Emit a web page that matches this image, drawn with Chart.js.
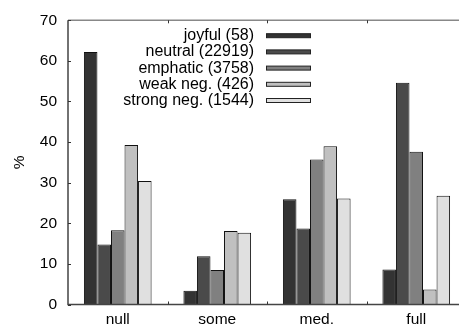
<!DOCTYPE html>
<html>
<head>
<meta charset="utf-8">
<script src="https://cdn.jsdelivr.net/npm/chart.js@4/dist/chart.umd.min.js"></script>
<style>
html,body{margin:0;padding:0;overflow:hidden;background:#fff;width:459px;height:329px;}
#wrap{position:absolute;left:0;top:0;width:470px;height:329px;}
</style>
</head>
<body>
<div id="wrap"><canvas id="c" width="470" height="329"></canvas></div>
<script>
const categories = ["null", "some", "med.", "full"];
const seriesLabels = ["joyful (58)", "neutral (22919)", "emphatic (3758)", "weak neg. (426)", "strong neg. (1544)"];
const joyful    = [62.2, 3.4, 25.9, 8.6];
const neutral   = [14.8, 11.9, 18.7, 54.6];
const emphatic  = [18.3, 8.5, 35.7, 37.6];
const weakNeg   = [39.3, 18.1, 39.0, 3.7];
const strongNeg = [30.4, 17.7, 26.1, 26.8];
const yTicks = [0, 10, 20, 30, 40, 50, 60, 70];
const yAxisLabel = "%";

const fills = ["#333333", "#4a4a4a", "#808080", "#c0c0c0", "#e0e0e0"];
const seriesData = [joyful, neutral, emphatic, weakNeg, strongNeg];

const FONT = "'Liberation Sans', Arial, Helvetica, sans-serif";

const frame = {
  id: 'frame',
  afterDraw(chart) {
    const ctx = chart.ctx;
    const a = chart.chartArea;
    const x = chart.scales.x, y = chart.scales.y;
    ctx.save();
    ctx.strokeStyle = '#888';
    ctx.lineWidth = 1.5;
    ctx.beginPath();
    ctx.moveTo(a.left, a.top);
    ctx.lineTo(a.right, a.top);
    ctx.stroke();
    ctx.strokeStyle = '#444';
    ctx.lineWidth = 1.5;
    ctx.beginPath();
    ctx.moveTo(a.left, a.top);
    ctx.lineTo(a.left, a.bottom);
    ctx.lineTo(a.right, a.bottom);
    ctx.stroke();
    ctx.lineWidth = 1;
    ctx.strokeStyle = '#333';
    yTicks.forEach(v => {
      const py = Math.round(y.getPixelForValue(v)) + 0.5;
      ctx.beginPath();
      ctx.moveTo(a.left, py);
      ctx.lineTo(a.left + 3, py);
      ctx.stroke();
    });
    for (let i = 1; i < categories.length; i++) {
      const px = Math.round((x.getPixelForValue(i - 1) + x.getPixelForValue(i)) / 2) + 0.5;
      ctx.beginPath();
      ctx.moveTo(px, a.bottom);
      ctx.lineTo(px, a.bottom - 3);
      ctx.moveTo(px, a.top);
      ctx.lineTo(px, a.top + 3);
      ctx.stroke();
    }
    ctx.font = "16px " + FONT;
    ctx.textAlign = 'right';
    ctx.textBaseline = 'middle';
    chart.data.datasets.forEach((ds, i) => {
      const ly = 35.7 + 16.2 * i;
      ctx.fillStyle = '#000';
      ctx.fillText(ds.label, 254, ly);
      ctx.fillStyle = ds.backgroundColor;
      ctx.fillRect(266.5, ly - 2, 44, 4);
      ctx.strokeStyle = '#222';
      ctx.lineWidth = 1;
      ctx.strokeRect(266.5, ly - 2, 44, 4);
    });
    ctx.restore();
  }
};

new Chart(document.getElementById('c'), {
  type: 'bar',
  data: {
    labels: categories,
    datasets: seriesLabels.map((lab, i) => ({
      label: lab,
      data: seriesData[i],
      backgroundColor: fills[i],
      borderColor: '#111',
      borderWidth: 1,
      categoryPercentage: 0.68,
      barPercentage: 1.0
    }))
  },
  options: {
    responsive: false,
    animation: false,
    devicePixelRatio: 1,
    layout: { padding: { top: 15, right: 4, left: 0, bottom: 0 } },
    plugins: { legend: { display: false }, tooltip: { enabled: false } },
    scales: {
      x: {
        grid: { display: false, drawTicks: false },
        border: { display: false },
        ticks: { color: '#000', font: { family: FONT, size: 15.5 }, padding: 6 },
        afterFit(s) { s.height = 24.5; }
      },
      y: {
        min: 0, max: 70,
        grid: { display: false, drawTicks: false },
        border: { display: false },
        afterBuildTicks(s) { s.ticks = yTicks.map(v => ({ value: v })); },
        ticks: { color: '#000', font: { family: FONT, size: 15.5 }, padding: 11 },
        title: { display: true, text: yAxisLabel, color: '#000', font: { family: FONT, size: 15.5 }, padding: { top: 10, bottom: 0 } },
        afterFit(s) { s.width = 68; }
      }
    }
  },
  plugins: [frame]
});
</script>
</body>
</html>
